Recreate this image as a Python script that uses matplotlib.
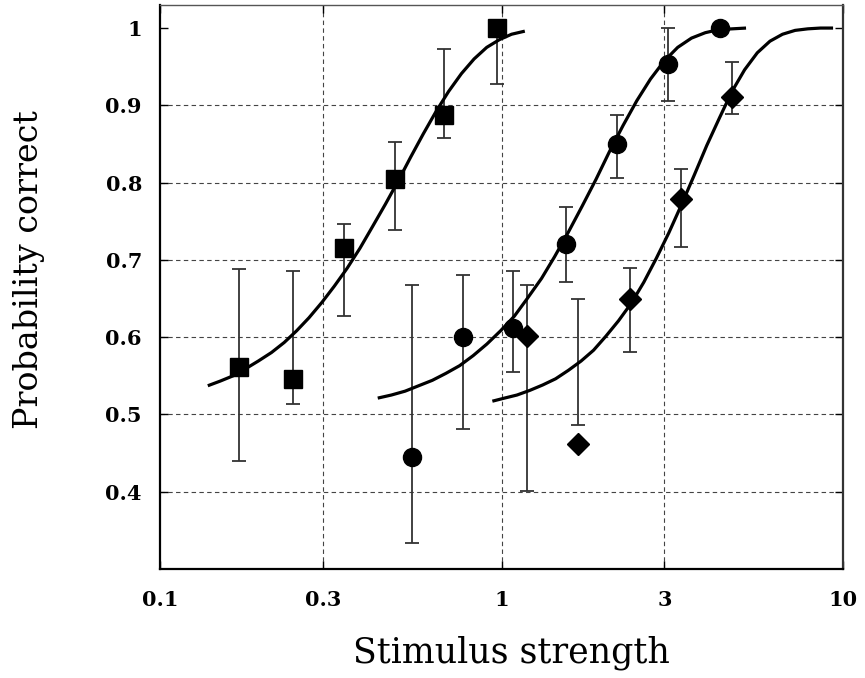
import numpy as np
import matplotlib
matplotlib.use('Agg')
import matplotlib.pyplot as plt

# measured points: x, y, and error bar ends (lo, hi)
sq_x = [0.17, 0.245, 0.345, 0.487, 0.677, 0.97]
sq_y = [0.561, 0.546, 0.715, 0.805, 0.888, 1.0]
sq_lo = [0.439, 0.514, 0.627, 0.738, 0.858, 0.928]
sq_hi = [0.688, 0.686, 0.747, 0.852, 0.973, 1.0]

ci_x = [0.546, 0.77, 1.08, 1.54, 2.18, 3.08, 4.37]
ci_y = [0.445, 0.60, 0.612, 0.721, 0.85, 0.954, 1.0]
ci_lo = [0.334, 0.481, 0.555, 0.671, 0.806, 0.906, 1.0]
ci_hi = [0.668, 0.68, 0.686, 0.769, 0.888, 1.0, 1.0]

di_x = [1.19, 1.67, 2.37, 3.36, 4.73]
di_y = [0.601, 0.462, 0.649, 0.779, 0.911]
di_lo = [0.401, 0.486, 0.581, 0.717, 0.889]
di_hi = [0.668, 0.649, 0.689, 0.817, 0.956]

# fitted curves
sq_fit_x = [0.138, 0.15, 0.164, 0.178, 0.194, 0.212, 0.231, 0.251, 0.273, 0.298, 0.324, 0.353, 0.385,
            0.419, 0.457, 0.498, 0.542, 0.59, 0.643, 0.7, 0.763, 0.831, 0.905, 0.986, 1.07, 1.17]
sq_fit_y = [0.537, 0.543, 0.550, 0.559, 0.569, 0.580, 0.593, 0.608, 0.625, 0.645, 0.666, 0.689, 0.715,
            0.743, 0.772, 0.802, 0.833, 0.863, 0.892, 0.918, 0.941, 0.960, 0.975, 0.985, 0.992, 0.996]

ci_fit_x = [0.434, 0.476, 0.522, 0.572, 0.627, 0.687, 0.754, 0.826, 0.906, 0.993, 1.09, 1.19, 1.31, 1.43,
            1.57, 1.72, 1.89, 2.07, 2.27, 2.49, 2.73, 2.99, 3.28, 3.6, 3.95, 4.33, 4.74, 5.2]
ci_fit_y = [0.521, 0.525, 0.530, 0.537, 0.544, 0.553, 0.563, 0.576, 0.591, 0.608, 0.627, 0.650, 0.676, 0.704,
            0.736, 0.769, 0.804, 0.840, 0.874, 0.906, 0.934, 0.957, 0.975, 0.987, 0.994, 0.998, 0.999, 1.000]

di_fit_x = [0.94, 1.02, 1.11, 1.21, 1.32, 1.44, 1.57, 1.71, 1.86, 2.02, 2.2, 2.4, 2.61, 2.84,
            3.09, 3.37, 3.67, 3.99, 4.35, 4.73, 5.15, 5.61, 6.11, 6.65, 7.24, 7.89, 8.59, 9.35]
di_fit_y = [0.517, 0.521, 0.525, 0.531, 0.538, 0.546, 0.557, 0.569, 0.583, 0.601, 0.621, 0.644, 0.671, 0.702,
            0.735, 0.772, 0.810, 0.848, 0.884, 0.918, 0.946, 0.968, 0.983, 0.992, 0.997, 0.999, 1.000, 1.000]

x_ticks = [0.1, 0.3, 1, 3, 10]
x_ticklabels = ['0.1', '0.3', '1', '3', '10']
y_ticks = [0.4, 0.5, 0.6, 0.7, 0.8, 0.9, 1.0]
y_ticklabels = ['0.4', '0.5', '0.6', '0.7', '0.8', '0.9', '1']

plt.rcParams['font.family'] = ['DejaVu Serif']

fig = plt.figure(figsize=(8.65, 6.78), dpi=100)
ax = fig.add_axes([0.185, 0.161, 0.7896, 0.8318])
ax.set_xscale('log')
ax.set_xlim(0.1, 10)
ax.set_ylim(0.3, 1.03)

grid_kw = dict(color='#444444', lw=0.8, ls=(0, (4, 3)), zorder=1)
for v in [0.3, 1, 3]:
    ax.axvline(v, **grid_kw)
for v in [0.4, 0.5, 0.6, 0.7, 0.8, 0.9]:
    ax.axhline(v, **grid_kw)

fit_kw = dict(color='black', lw=2.3, zorder=3, solid_capstyle='butt', solid_joinstyle='round')
ax.plot(sq_fit_x, sq_fit_y, **fit_kw)
ax.plot(ci_fit_x, ci_fit_y, **fit_kw)
ax.plot(di_fit_x, di_fit_y, **fit_kw)

err_kw = dict(fmt='none', ecolor='#333333', elinewidth=1.3, capsize=5, capthick=1.3, zorder=2)
for xs, lo, hi in [(sq_x, sq_lo, sq_hi), (ci_x, ci_lo, ci_hi), (di_x, di_lo, di_hi)]:
    lo = np.array(lo)
    hi = np.array(hi)
    ax.errorbar(xs, lo, yerr=[np.zeros(len(lo)), hi - lo], **err_kw)

ax.plot(sq_x, sq_y, 's', color='black', ms=12.5, ls='none', zorder=4)
ax.plot(ci_x, ci_y, 'o', color='black', ms=13, ls='none', zorder=4)
ax.plot(di_x, di_y, 'D', color='black', ms=11.5, ls='none', zorder=4)

ax.set_xticks(x_ticks)
ax.set_xticklabels(x_ticklabels)
ax.xaxis.set_minor_locator(matplotlib.ticker.NullLocator())
ax.set_yticks(y_ticks)
ax.set_yticklabels(y_ticklabels)
ax.tick_params(axis='both', direction='in', length=6, width=1, top=True, right=True,
               labelsize=15)
ax.tick_params(axis='y', pad=13)
ax.tick_params(axis='x', pad=15)
for lab in ax.get_xticklabels() + ax.get_yticklabels():
    lab.set_fontweight('bold')

ax.spines['left'].set_linewidth(1.6)
ax.spines['bottom'].set_linewidth(1.6)
ax.spines['right'].set_linewidth(1.6)
ax.spines['right'].set_color('#333333')
ax.spines['top'].set_linewidth(1.0)
ax.spines['top'].set_color('#555555')

ax.set_xlabel('Stimulus strength', fontsize=25)
ax.set_ylabel('Probability correct', fontsize=24)
ax.xaxis.set_label_coords(0.515, -0.118)
ax.yaxis.set_label_coords(-0.168, 0.53)

fig.savefig('out.png', dpi=100)
